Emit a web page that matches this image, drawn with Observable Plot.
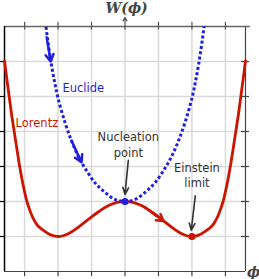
<!DOCTYPE html>
<html><head><meta charset="utf-8">
<script src="https://cdn.jsdelivr.net/npm/d3@7"></script>
<script src="https://cdn.jsdelivr.net/npm/@observablehq/plot@0.6"></script>
<style>body{margin:0;background:#fff}</style>
</head><body><div id="chart"></div>
<script>
// Lorentz potential (red)
const lorentzPhi = [-3.6,-3.53,-3.46,-3.39,-3.31,-3.23,-3.15,-3.05,-2.93,-2.84,-2.74,-2.6,-2.4,-2.2,-2.0,-1.8,-1.6,-1.4,-1.2,-1.0,-0.8,-0.6,-0.4,-0.2,0,0.2,0.4,0.6,0.8,1.0,1.2,1.4,1.6,1.8,2.0,2.2,2.4,2.6,2.74,2.84,2.93,3.05,3.15,3.23,3.31,3.39,3.46,3.53,3.6];
const lorentzW   = [5.02,4.5,4.0,3.5,3.0,2.5,2.02,1.5,1.0,0.74,0.51,0.3,0.15,0.04,0,0.036,0.13,0.26,0.41,0.56,0.7,0.83,0.92,0.98,1,0.98,0.92,0.83,0.7,0.56,0.41,0.26,0.13,0.036,0,0.04,0.15,0.3,0.51,0.74,1.0,1.5,2.02,2.5,3.0,3.5,4.0,4.5,5.02];
// Euclide potential (blue dotted)
const euclidePhi = [-2.5,-2.4,-2.3,-2.2,-2.1,-2.0,-1.8,-1.6,-1.4,-1.2,-0.9,-0.6,-0.3,0,0.3,0.6,0.9,1.2,1.4,1.6,1.8,2.0,2.1,2.2,2.3,2.4,2.5];
const euclideW   = [7.2,6.3,5.55,4.92,4.4,3.95,3.28,2.74,2.3,1.96,1.54,1.26,1.06,1,1.06,1.26,1.54,1.96,2.3,2.74,3.28,3.95,4.4,4.92,5.55,6.3,7.2];
const gridPhi = [-3,-2,-1,0,1,2,3];
const gridW = [0,1,2,3,4,5];
const topTickPhi = [-3,-2,-1,1,2,3];
const specialPoints = [
  {name:"Nucleation point", phi:0, W:1, kind:"E"},
  {name:"Einstein limit", phi:2, W:0, kind:"L"}
];
const labels = ["Euclide","Lorentz","Nucleation\npoint","Einstein\nlimit"];

const RED = "#cc1500", BLUE = "#1f1fe0", INK = "#333";
const lorentz = lorentzPhi.map((p,i)=>({phi:p, W:lorentzW[i]}));
const euclide = euclidePhi.map((p,i)=>({phi:p, W:euclideW[i]}));

const plot = Plot.plot({
  width:259, height:279,
  marginLeft:4, marginRight:14, marginTop:26, marginBottom:8,
  x:{domain:[-3.6,3.6], axis:null},
  y:{domain:[-1,6], axis:null},
  style:{background:"#fff", overflow:"visible", fontFamily:"DejaVu Sans"},
  marks:[
    Plot.ruleX(gridPhi, {stroke:"#d9d9d9", strokeWidth:1.5}),
    Plot.ruleY(gridW, {stroke:"#d9d9d9", strokeWidth:1.5}),
    // frame
    Plot.ruleX([3.6], {stroke:"#444", strokeWidth:1.2}),
    Plot.ruleY([-1], {stroke:"#444", strokeWidth:1.2}),
    Plot.ruleY([6], {x1:-3.6, x2:3.75, stroke:"#666", strokeWidth:1.5}),
    Plot.ruleX([-3.6], {stroke:"#000", strokeWidth:1.5}),
    // ticks
    Plot.ruleX(topTickPhi, {y1:5.9, y2:6.12, stroke:"#555", strokeWidth:1.2}),
    Plot.ruleX(gridPhi, {y1:-1, y2:-1.15, stroke:"#444", strokeWidth:1.2}),
    Plot.ruleY(gridW, {x1:-3.72, x2:-3.6, stroke:"#000", strokeWidth:1.2}),
    Plot.ruleY(gridW, {x1:3.48, x2:3.72, stroke:"#444", strokeWidth:1.2}),
    Plot.arrow([{a:0,b:5.92,c:0,d:6.26}], {x1:"a", y1:"b", x2:"c", y2:"d", stroke:"#555", strokeWidth:1.2, headLength:5}),
    // curves
    Plot.line(lorentz, {x:"phi", y:"W", stroke:RED, strokeWidth:2.8, curve:"catmull-rom"}),
    Plot.line(euclide, {x:"phi", y:"W", stroke:BLUE, strokeWidth:3, strokeDasharray:"3 2.3", strokeLinecap:"butt", curve:"catmull-rom", clip:true}),
    // direction arrows on the curves
    Plot.arrow([{a:-2.34,b:5.69,c:-2.22,d:5.0},{a:-1.6,b:2.74,c:-1.3,d:2.12}], {x1:"a", y1:"b", x2:"c", y2:"d", stroke:BLUE, strokeWidth:2.5, headLength:4.8}),
    Plot.arrow([{a:0.6,b:0.83,c:1.15,d:0.44}], {x1:"a", y1:"b", x2:"c", y2:"d", stroke:RED, strokeWidth:2.5, headLength:4.8}),
    // points
    Plot.dot(specialPoints, {x:"phi", y:"W", r:3.6, fill:d=>d.kind==="E"?BLUE:RED, stroke:null}),
    // annotation arrows
    Plot.arrow([{a:0.1,b:2.18,c:0.0,d:1.2},{a:2.1,b:1.16,c:1.98,d:0.18}], {x1:"a", y1:"b", x2:"c", y2:"d", stroke:INK, strokeWidth:1.6, headLength:7, headAngle:45}),
    // texts
    Plot.text([labels[0]], {x:-1.87, y:4.24, text:d=>d, textAnchor:"start", fill:BLUE, fontSize:11.5}),
    Plot.text([labels[1]], {x:-3.27, y:3.24, text:d=>d, textAnchor:"start", fill:RED, fontSize:11.5}),
    Plot.text([labels[2]], {x:0.1, y:2.65, text:d=>d, fill:INK, fontSize:11.5, lineHeight:1.4}),
    Plot.text([labels[3]], {x:2.15, y:1.77, text:d=>d, fill:INK, fontSize:11.5, lineHeight:1.3}),
    Plot.text(["W(ϕ)"], {x:0.05, y:6, dy:-18, text:d=>d, fill:"#444", fontSize:14, fontStyle:"italic", fontWeight:"bold", fontFamily:"DejaVu Serif"}),
    Plot.text(["ϕ"], {x:3.6, y:-1, dx:8, dy:1, text:d=>d, fill:"#444", fontSize:14, fontStyle:"italic", fontWeight:"bold", fontFamily:"DejaVu Serif"})
  ]
});
document.getElementById("chart").appendChild(plot);
</script>
</body></html>
